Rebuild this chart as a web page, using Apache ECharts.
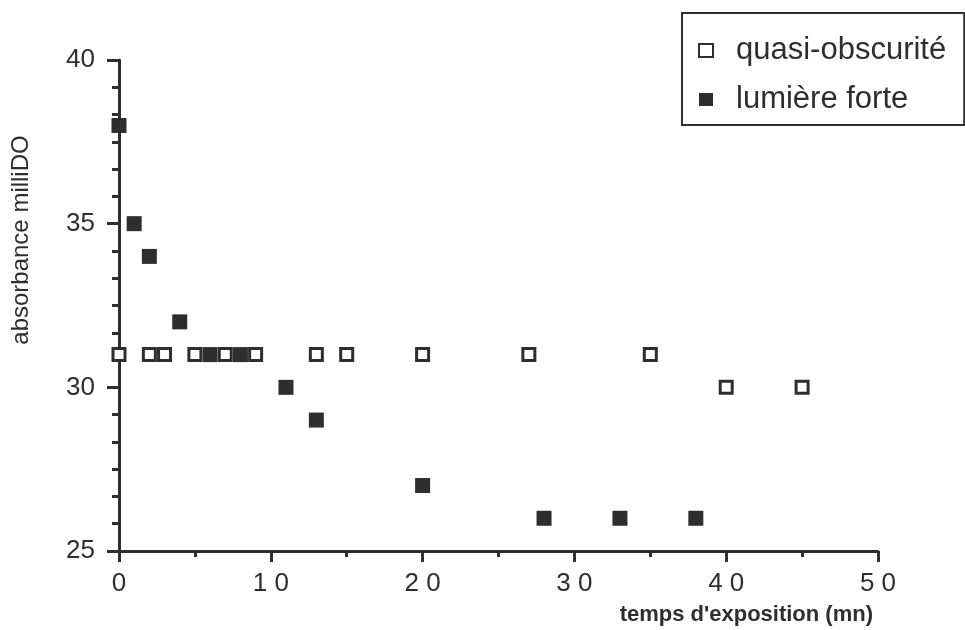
<!DOCTYPE html>
<html>
<head>
<meta charset="utf-8">
<script src="https://cdn.jsdelivr.net/npm/echarts@6/dist/echarts.min.js"></script>
<style>
html,body{margin:0;padding:0;background:#fff;}
#chart{width:965px;height:630px;}
</style>
</head>
<body>
<div id="chart"></div>
<script>
// Data
var seriesNames = ['quasi-obscurité', 'lumière forte'];
var darkX = [0, 2, 3, 5, 7, 9, 13, 15, 20, 27, 35, 40, 45];
var darkY = [31, 31, 31, 31, 31, 31, 31, 31, 31, 31, 31, 30, 30];
var lightX = [0, 1, 2, 4, 6, 8, 11, 13, 20, 28, 33, 38];
var lightY = [38, 35, 34, 32, 31, 31, 30, 29, 27, 26, 26, 26];
var xTitle = "temps d'exposition (mn)";
var yTitle = 'absorbance milliDO';

function pairs(xs, ys) { return xs.map(function (x, i) { return [x, ys[i]]; }); }

var ink = '#2e2e2e';
var chart = echarts.init(document.getElementById('chart'), null, {renderer: 'canvas'});
chart.setOption({
  animation: false,
  backgroundColor: '#fff',
  grid: {left: 119, right: 87, top: 60, bottom: 79},
  legend: {
    orient: 'vertical',
    left: 682, top: 13,
    padding: [22, 18, 10, 16],
    itemGap: 18,
    itemWidth: 14, itemHeight: 13,
    borderColor: ink, borderWidth: 2,
    textStyle: {fontFamily: 'Liberation Sans, Arial, sans-serif', fontSize: 31, color: ink, padding: [0, 0, 0, 18]},
    data: seriesNames
  },
  xAxis: {
    type: 'value', min: 0, max: 50, interval: 10,
    name: xTitle, nameLocation: 'end', nameGap: -5,
    nameTextStyle: {fontFamily: 'Liberation Sans, Arial, sans-serif', fontSize: 22, fontWeight: 'bold', color: ink,
      align: 'right', verticalAlign: 'top', padding: [53, 0, 0, 0]},
    axisLine: {show: true, onZero: false, lineStyle: {color: ink, width: 3}},
    axisTick: {show: true, inside: false, length: 11, lineStyle: {color: ink, width: 3}},
    minorTick: {show: true, splitNumber: 2, length: 6, lineStyle: {color: ink, width: 3}},
    splitLine: {show: false},
    axisLabel: {margin: 20, fontFamily: 'Liberation Sans, Arial, sans-serif', fontSize: 26, color: ink,
      formatter: function (v) { return String(v).split('').join(' '); }}
  },
  yAxis: {
    type: 'value', min: 25, max: 40, interval: 5,
    name: yTitle, nameLocation: 'middle', nameGap: 86, nameRotate: 90,
    nameTextStyle: {fontFamily: 'Liberation Sans, Arial, sans-serif', fontSize: 24, color: ink, padding: [0, 0, 0, 131]},
    axisLine: {show: true, onZero: false, lineStyle: {color: ink, width: 3}},
    axisTick: {show: true, inside: false, length: 12, lineStyle: {color: ink, width: 3}},
    minorTick: {show: true, splitNumber: 6, length: 7, lineStyle: {color: ink, width: 3}},
    splitLine: {show: false},
    axisLabel: {margin: 24, fontFamily: 'Liberation Sans, Arial, sans-serif', fontSize: 26, color: ink}
  },
  series: [
    {
      name: seriesNames[0], type: 'scatter', symbol: 'rect', symbolSize: 12,
      itemStyle: {color: '#fff', borderColor: ink, borderWidth: 3, opacity: 1},
      data: pairs(darkX, darkY), z: 2
    },
    {
      name: seriesNames[1], type: 'scatter', symbol: 'rect', symbolSize: 15,
      itemStyle: {color: ink, opacity: 1},
      data: pairs(lightX, lightY), z: 3
    }
  ]
});
</script>
</body>
</html>
